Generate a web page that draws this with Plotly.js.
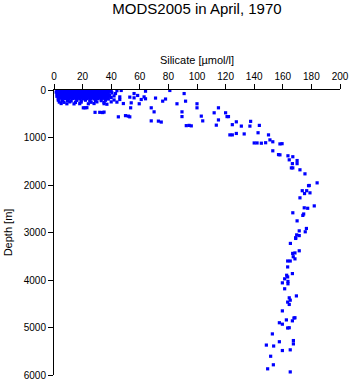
<!DOCTYPE html>
<html>
<head>
<meta charset="utf-8">
<script src="https://cdn.plot.ly/plotly-3.0.1.min.js"></script>
<style>html,body{margin:0;padding:0;background:#fff;}</style>
</head>
<body>
<div id="chart" style="width:351px;height:384px;"></div>
<script>
// Silicate [µmol/l] and depth [m] (pairs by index)
const silicate = [
  // dense shallow cluster
  2,4.5,6,8.5,10,12.5,14,16.5,18,20.5,22,24.5,26,28.5,30,32.5,34,36.5,38,40,44,47,
  3,5,7,9,11,13,15,17,19,21,23,25,27,29,31,33,35,37,39,
  1.5,3.5,5.5,7.5,9.5,11.5,13.5,15.5,17.5,19.5,21.5,23.5,25.5,27.5,29.5,31.5,33.5,35.5,37.5,40.5,
  2.5,5,7,9.5,11,13.5,15,17.5,19,21.5,23,25.5,27,29.5,31,33.5,35,37.5,
  2,4,6,8,10,12,14,16,18,20,22,24,26,28,30,32,34,36,38,43,
  3,5.5,7.5,9,11.5,13,15.5,17,19.5,21,23.5,25,27.5,29,31.5,33,35.5,37,
  2.5,4.5,6.5,8.5,10.5,12.5,14.5,16.5,18.5,20.5,22.5,24.5,26.5,28.5,30.5,32.5,34.5,36.5,39,42,
  2,4,6,8,10,12,14,16,18,20,22,24,26,28,30,32,34,36,38,
  3,5,7,9,11,13,15,17,19,21,23,25,27,29,31,33,35,37,40,
  4,6.5,9,11.5,14,16.5,19,21.5,24,26.5,29,31.5,34,36.5,
  3,5.5,8,10.5,13,15.5,18,20.5,23,25.5,28,30.5,33,35.5,38,
  3,6,9.5,12,16,19,22,25,29,33,36,42,
  3.7,7,11,15,19,26,30,35,40,44,
  5,9,14,18,24,28,35,37,48.5,
  20.5,21.7,23,28.7,32,34,35,
  // upper scattered
  46,46,45,50,53,52,53.6,54,56,56,58.5,59.6,61,64,63,64,68,70,71,68,73,75,76,78,81,86,89.5,89.5,91,92,
  92.5,94.5,96,100,100,53,
  103,104,112,113.5,115,115,120,121,122,124.7,123,124.7,127.5,127.5,131,133,137,137.5,
  140,142,142.7,143.6,145,148,150,151,153,153,157,158,158,159.5,
  // deep profile
  163.6,164.5,166,166.7,167,167,170,170,172,175.5,184,178,178.5,173.6,176.7,175.2,179,172,
  175,177.4,182,167,174.6,174,170,176.5,175.7,171.5,169.7,171.5,169,169,165.3,
  171.5,166.9,168.5,167.3,168.5,163.4,165.2,163.4,166.7,162.7,163.4,161.3,163.6,163.6,159.7,161.3,
  169.5,164.5,165.2,163.4,164.5,159.7,162.5,168.5,167.8,166.7,157.6,159.7,163.4,164.5,
  152.7,157.6,167.4,167.4,148.5,153.6,159.7,165.2,151.5,153.4,149.4,165.2
];
const depth = [
  10,5,15,8,12,5,15,10,6,14,8,12,5,15,9,12,6,14,10,20,15,10,
  28,25,30,24,27,29,25,28,26,30,24,27,29,25,28,26,30,24,27,
  45,40,50,42,48,40,52,44,46,40,50,45,42,48,40,50,44,46,42,60,
  62,64,60,63,65,61,62,64,60,63,65,61,62,64,60,63,65,61,
  80,85,78,82,88,76,84,80,86,78,82,88,80,84,76,86,80,82,78,75,
  98,100,96,99,101,97,98,100,96,99,101,97,98,100,96,99,101,97,
  115,120,110,118,112,122,114,118,110,120,116,112,122,114,118,110,120,116,112,125,
  132,134,130,133,135,131,132,134,130,133,135,131,132,134,130,133,135,131,136,
  150,155,148,152,158,146,154,150,156,148,152,158,146,154,150,156,148,152,160,
  168,170,166,169,171,167,168,170,166,169,171,167,168,170,
  185,190,182,188,180,192,184,188,182,190,186,180,188,184,190,
  215,225,220,230,218,226,215,228,220,224,216,210,
  255,260,250,262,255,258,250,262,250,255,
  285,290,292,288,290,285,288,300,285,
  375,375,372,470,470,475,465,
  145,200,565,540,565,550,375,270,165,75,115,290,200,25,145,185,375,460,170,650,655,675,235,190,10,290,460,560,75,235,
  750,745,755,290,375,150,
  550,650,480,740,375,630,480,560,560,730,945,945,670,915,760,925,760,660,
  1115,1115,900,745,1120,1110,945,1050,1090,1280,1360,1365,1135,1130,
  1385,1470,1640,1550,1405,1640,1485,1550,1680,1765,1955,2015,2010,2120,2120,2180,2165,2270,
  2480,2490,2440,2585,2610,2640,2755,2915,2985,2965,3050,3065,3125,3110,3230,
  3385,3440,3430,3510,3555,3600,3600,3725,3865,3900,3935,3975,4030,4080,4060,4185,
  4335,4375,4425,4465,4515,4650,4840,4795,4800,4860,4900,4930,5010,5005,
  5135,5300,5275,5345,5370,5390,5485,5470,5605,5785,5870,5935
];
const xTicks = [0,20,40,60,80,100,120,140,160,180,200];
const yTicks = [0,1000,2000,3000,4000,5000,6000];

const trace = {
  type: 'scatter', mode: 'markers',
  x: silicate, y: depth,
  marker: {symbol: 'square', size: 3.2, color: '#0000ff', line: {width: 0}},
  hoverinfo: 'skip'
};

const layout = {
  width: 351, height: 384,
  margin: {l: 54, r: 11, t: 90, b: 9, pad: 0},
  paper_bgcolor: '#ffffff', plot_bgcolor: '#ffffff',
  font: {family: 'Liberation Sans, Arial, sans-serif', size: 10, color: '#000000'},
  showlegend: false,
  title: {text: 'MODS2005 in April, 1970', font: {size: 15, color: '#000000'},
          x: 0.5, xref: 'paper', xanchor: 'center', y: 1 - 9/384, yref: 'container', yanchor: 'middle'},
  xaxis: {
    side: 'top', range: [0, 200], tickmode: 'array', tickvals: xTicks, ticktext: xTicks.map(String),
    ticks: 'outside', ticklen: 5, tickcolor: '#000', tickwidth: 1,
    showline: true, linecolor: '#000', linewidth: 1, mirror: false,
    showgrid: false, zeroline: false, fixedrange: true,
    title: {text: 'Silicate [µmol/l]', font: {size: 11}, standoff: 4}
  },
  yaxis: {
    range: [6000, 0], tickmode: 'array', tickvals: yTicks, ticktext: yTicks.map(String),
    ticks: 'outside', ticklen: 5, tickcolor: '#000', tickwidth: 1,
    showline: true, linecolor: '#000', linewidth: 1, mirror: false,
    showgrid: false, zeroline: false, fixedrange: true,
    title: {text: 'Depth [m]', font: {size: 11}, standoff: 8}
  }
};

Plotly.newPlot('chart', [trace], layout, {staticPlot: true, displayModeBar: false});
</script>
</body>
</html>
